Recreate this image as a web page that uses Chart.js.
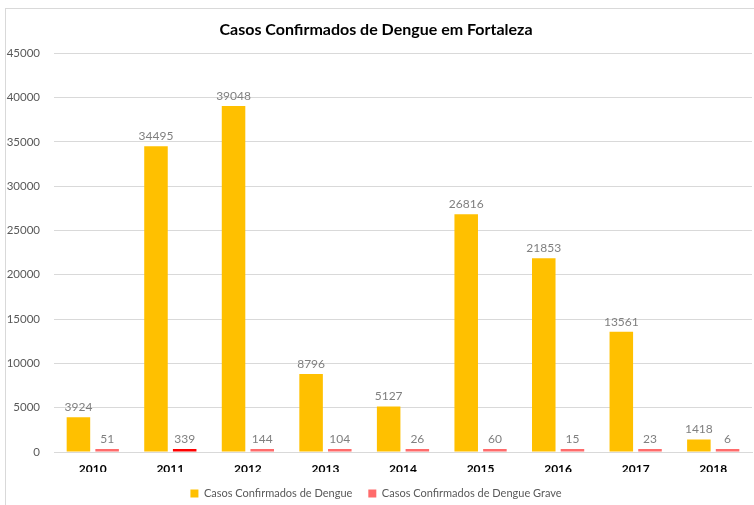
<!DOCTYPE html>
<html lang="pt">
<head>
    <meta charset="UTF-8">
    <title>Casos Confirmados de Dengue em Fortaleza</title>
    <script src="https://cdn.jsdelivr.net/npm/chart.js"></script>
    <style>
        html, body {
            margin: 0;
            padding: 0;
            background: #ffffff;
            overflow: hidden;
        }
        .frame {
            position: absolute;
            left: 5px;
            top: 8px;
            width: 760px;
            height: 510px;
            border: 1px solid #d9d9d9;
        }
        .wrap {
            position: absolute;
            left: 0;
            top: 0;
            width: 754px;
            height: 505px;
        }
    </style>
</head>
<body>
    <div class="frame"></div>
    <div class="wrap"><canvas id="dengueChart"></canvas></div>

    <script>
        const anos = ["2010", "2011", "2012", "2013", "2014", "2015", "2016", "2017", "2018"];
        const casosDengue = [3924, 34495, 39048, 8796, 5127, 26816, 21853, 13561, 1418];
        const casosGrave = [51, 339, 144, 104, 26, 60, 15, 23, 6];

        const fonte = "Lato, 'Open Sans', sans-serif";

        // rótulos de valor acima de cada barra
        const rotulos = {
            id: "rotulos",
            afterDatasetsDraw(chart) {
                const ctx = chart.ctx;
                ctx.save();
                ctx.font = "12px " + fonte;
                ctx.fillStyle = "#7f7f7f";
                ctx.textAlign = "center";
                ctx.textBaseline = "bottom";
                chart.data.datasets.forEach((ds, i) => {
                    chart.getDatasetMeta(i).data.forEach((bar, j) => {
                        ctx.fillText(String(ds.data[j]), bar.x, bar.y - 4);
                    });
                });
                ctx.restore();
            }
        };

        const ctx = document.getElementById("dengueChart").getContext("2d");
        new Chart(ctx, {
            type: "bar",
            data: {
                labels: anos,
                datasets: [
                    {
                        label: "Casos Confirmados de Dengue",
                        data: casosDengue,
                        backgroundColor: "#FFC000",
                        categoryPercentage: 0.74,
                        barPercentage: 0.82
                    },
                    {
                        label: "Casos Confirmados de Dengue Grave",
                        data: casosGrave,
                        backgroundColor: casosGrave.map(v => v > 300 ? "#FF0000" : "#FF6B6B"),
                        minBarLength: 3,
                        categoryPercentage: 0.74,
                        barPercentage: 0.82
                    }
                ]
            },
            options: {
                responsive: true,
                maintainAspectRatio: false,
                animation: false,
                layout: { padding: { left: 0, right: 2, top: 14, bottom: -4 } },
                plugins: {
                    title: {
                        display: true,
                        text: "Casos Confirmados de Dengue em Fortaleza",
                        color: "#000000",
                        font: { family: fonte, size: 16, weight: "bold" },
                        padding: { top: 6, bottom: 14 }
                    },
                    legend: {
                        position: "bottom",
                        labels: {
                            boxWidth: 8,
                            boxHeight: 8,
                            padding: 16,
                            color: "#595959",
                            font: { family: fonte, size: 11 }
                        }
                    },
                    tooltip: { enabled: false }
                },
                scales: {
                    x: {
                        grid: { display: false, drawTicks: false },
                        border: { color: "#d9d9d9" },
                        ticks: {
                            color: "#000000",
                            font: { family: fonte, size: 12, weight: "bold" },
                            padding: 10
                        },
                        afterFit: s => { s.height = 20; }
                    },
                    y: {
                        min: 0,
                        max: 45000,
                        grid: { color: "#d9d9d9", drawTicks: false },
                        border: { display: false },
                        ticks: {
                            stepSize: 5000,
                            color: "#595959",
                            padding: 14,
                            font: { family: fonte, size: 11.5 },
                            callback: v => String(v)
                        },
                        afterFit: s => { s.width = 54; }
                    }
                }
            },
            plugins: [rotulos]
        });
    </script>
</body>
</html>
